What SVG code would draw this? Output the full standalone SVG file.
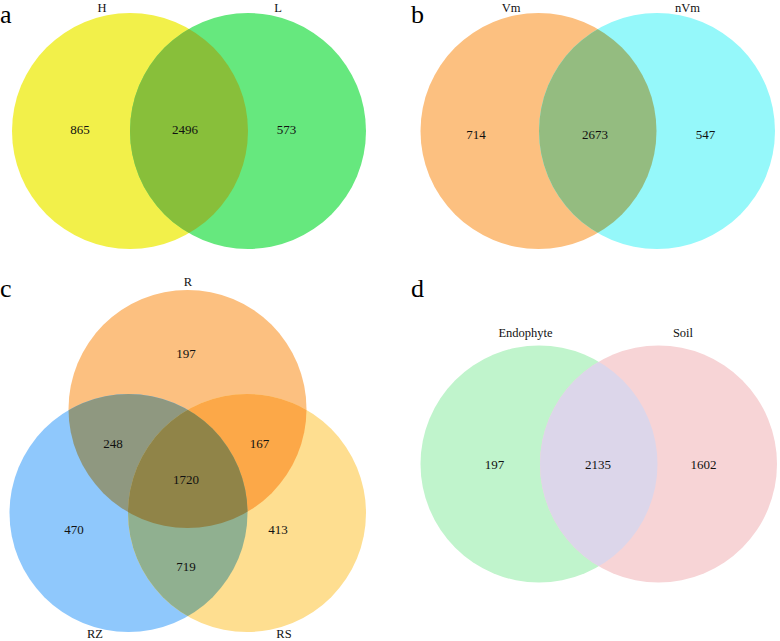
<svg xmlns="http://www.w3.org/2000/svg" width="780" height="641" viewBox="0 0 780 641">
<style>
text{font-family:"Liberation Serif","DejaVu Serif",serif;fill:#111;text-anchor:middle}
.num{font-size:13px}
.lab{font-size:12.5px}
.pl{font-size:26px;text-anchor:start;fill:#000}
</style>
<defs>
<clipPath id="cH"><circle cx="130" cy="131" r="118"/></clipPath>
<clipPath id="cVm"><circle cx="538.5" cy="131" r="118"/></clipPath>
<clipPath id="cR"><circle cx="187.5" cy="409" r="119"/></clipPath>
<clipPath id="cRZ"><circle cx="128.5" cy="513" r="119"/></clipPath>
<clipPath id="cE"><circle cx="539" cy="464" r="118.5"/></clipPath>
</defs>
<rect width="780" height="641" fill="#fff"/>

<!-- Panel a -->
<g id="panel-a">
<text class="pl" x="0" y="23">a</text>
<g id="a-H"><circle cx="130" cy="131" r="118" fill="#F2F04A"/><text class="lab" x="102" y="12">H</text></g>
<g id="a-L"><circle cx="248" cy="131" r="118" fill="#66E87E"/><text class="lab" x="278" y="12">L</text></g>
<g id="a-HL"><circle cx="248" cy="131" r="118" fill="#88BF3A" clip-path="url(#cH)"/></g>
<text class="num" x="80" y="134">865</text>
<text class="num" x="185" y="134">2496</text>
<text class="num" x="286.5" y="134">573</text>
</g>

<!-- Panel b -->
<g id="panel-b">
<text class="pl" x="411" y="23">b</text>
<g id="b-Vm"><circle cx="538.5" cy="131" r="118" fill="#FCC080"/><text class="lab" x="511" y="12">Vm</text></g>
<g id="b-nVm"><circle cx="657" cy="131" r="118" fill="#95F8FA"/><text class="lab" x="687.5" y="12">nVm</text></g>
<g id="b-both"><circle cx="657" cy="131" r="118" fill="#94BC80" clip-path="url(#cVm)"/></g>
<text class="num" x="476" y="139">714</text>
<text class="num" x="595" y="139">2673</text>
<text class="num" x="705.5" y="139">547</text>
</g>

<!-- Panel c -->
<g id="panel-c">
<text class="pl" x="0" y="297">c</text>
<g id="c-R"><circle cx="187.5" cy="409" r="119" fill="#FCC080"/><text class="lab" x="188" y="286">R</text></g>
<g id="c-RZ"><circle cx="128.5" cy="513" r="119" fill="#8FC8FC"/><text class="lab" x="95" y="638">RZ</text></g>
<g id="c-RS"><circle cx="247" cy="513" r="119" fill="#FEDE90"/><text class="lab" x="284" y="638">RS</text></g>
<g id="c-overlaps">
<circle cx="128.5" cy="513" r="119" fill="#8F9880" clip-path="url(#cR)"/>
<circle cx="247" cy="513" r="119" fill="#FCA848" clip-path="url(#cR)"/>
<circle cx="247" cy="513" r="119" fill="#90B090" clip-path="url(#cRZ)"/>
<g clip-path="url(#cR)"><circle cx="247" cy="513" r="119" fill="#908448" clip-path="url(#cRZ)"/></g>
</g>
<text class="num" x="186" y="358">197</text>
<text class="num" x="113" y="448">248</text>
<text class="num" x="259.5" y="448">167</text>
<text class="num" x="186" y="484">1720</text>
<text class="num" x="74" y="534">470</text>
<text class="num" x="278" y="534">413</text>
<text class="num" x="186" y="571">719</text>
</g>

<!-- Panel d -->
<g id="panel-d">
<text class="pl" x="411" y="297">d</text>
<g id="d-Endophyte"><circle cx="539" cy="464" r="118.5" fill="#C0F4CC"/><text class="lab" x="525.5" y="337">Endophyte</text></g>
<g id="d-Soil"><circle cx="658.5" cy="464" r="118.5" fill="#F7D4D6"/><text class="lab" x="683" y="337">Soil</text></g>
<g id="d-both"><circle cx="658.5" cy="464" r="118.5" fill="#DCD6EA" clip-path="url(#cE)"/></g>
<text class="num" x="494.5" y="469">197</text>
<text class="num" x="598" y="469">2135</text>
<text class="num" x="703.5" y="469">1602</text>
</g>

<g id="connectors"></g>
</svg>
